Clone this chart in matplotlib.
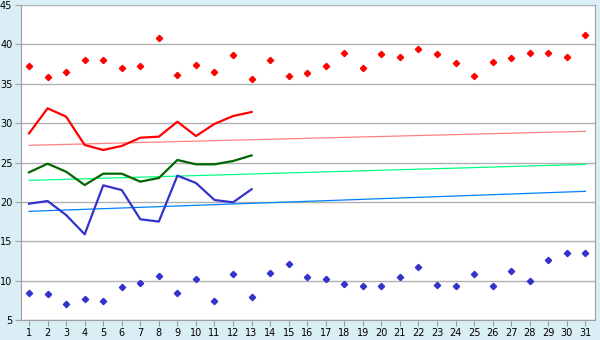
import numpy as np
import matplotlib
matplotlib.use("Agg")
import matplotlib.pyplot as plt

# dias do mes
dias = list(range(1, 32))

# extremos absolutos (pontos)
max_abs = [37.2, 35.8, 36.45, 37.97, 37.97, 36.96, 37.2, 40.77, 36.07, 37.34,
           36.45, 38.6, 35.56, 37.97, 35.94, 36.33, 37.2, 38.86, 36.96, 38.74,
           38.35, 39.37, 38.74, 37.59, 35.94, 37.72, 38.23, 38.86, 38.86, 38.35, 41.15]
min_abs = [8.39, 8.26, 6.99, 7.63, 7.37, 9.15, 9.66, 10.55, 8.39, 10.17,
           7.37, 10.8, 7.88, 10.93, 12.07, 10.42, 10.17, 9.53, 9.28, 9.28,
           10.42, 11.69, 9.41, 9.28, 10.8, 9.28, 11.18, 9.91, 12.58, 13.47, 13.47]

# valores diarios observados (dias 1-13)
dias_obs = list(range(1, 14))
t_max = [28.7, 31.88, 30.82, 27.22, 26.59, 27.1, 28.15, 28.28, 30.18, 28.36, 29.9, 30.9, 31.41]
t_med = [23.75, 24.85, 23.83, 22.14, 23.58, 23.58, 22.57, 23.03, 25.32, 24.77, 24.77, 25.19, 25.9]
t_min = [19.77, 20.11, 18.33, 15.88, 22.1, 21.5, 17.79, 17.5, 23.33, 22.4, 20.24, 19.94, 21.6]

# normais (inicio e fim do mes)
norm_max = [27.18, 28.96]
norm_med = [22.73, 24.76]
norm_min = [18.8, 21.34]

fundo = "#d9eef5"
fig = plt.figure(figsize=(6, 3.4), dpi=100, facecolor=fundo)
ax = fig.add_axes([0.0345, 0.0588, 0.9572, 0.9265])
ax.set_facecolor("white")

ax.grid(axis="y", color="#b0b0b0", linewidth=1.0, zorder=0)

ax.plot([1, 31], norm_max, color="#ff8080", lw=0.9, zorder=2)
ax.plot([1, 31], norm_med, color="#00ff80", lw=0.9, zorder=2)
ax.plot([1, 31], norm_min, color="#0080ff", lw=0.9, zorder=2)

ax.plot(dias_obs, t_max, color="#ff0000", lw=1.6, zorder=3)
ax.plot(dias_obs, t_med, color="#006400", lw=1.6, zorder=3)
ax.plot(dias_obs, t_min, color="#3333cc", lw=1.6, zorder=3)

ax.plot(dias, max_abs, ls="none", marker="D", ms=3.2, color="#ff0000", zorder=4)
ax.plot(dias, min_abs, ls="none", marker="D", ms=3.2, color="#3333cc", zorder=4)

ax.set_xlim(0.55, 31.52)
ax.set_ylim(5, 45)
ax.set_xticks(dias)
ax.set_yticks(range(5, 46, 5))
ax.tick_params(axis="both", labelsize=7, color="#a0a0a0", length=4, pad=2)
for s in ax.spines.values():
    s.set_color("#a0a0a0")
ax.spines["top"].set_visible(False)

plt.savefig("out.png", dpi=100, facecolor=fundo)
